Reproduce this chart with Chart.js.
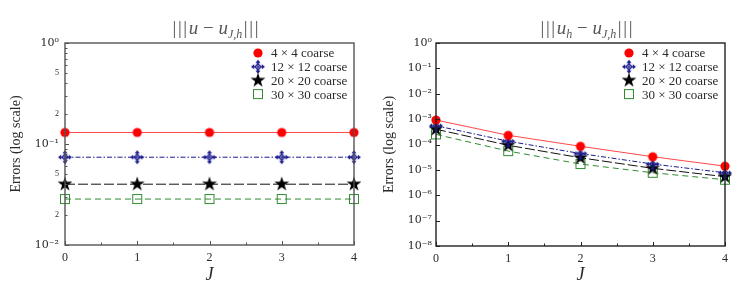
<!DOCTYPE html>
<html>
<head>
<meta charset="utf-8">
<script src="https://cdn.jsdelivr.net/npm/chart.js@4.4.1/dist/chart.umd.min.js"></script>
<style>
  html, body { margin: 0; padding: 0; background: #fff; }
  #wrap { position: relative; width: 747px; height: 293px; }
  canvas { position: absolute; top: 0; }
</style>
</head>
<body>
<div id="wrap">
  <canvas id="left-chart" width="373" height="293" style="left:0"></canvas>
  <canvas id="right-chart" width="374" height="293" style="left:373px"></canvas>
</div>
<script>
const levels = [0, 1, 2, 3, 4];
const seriesNames = ['4 × 4 coarse', '12 × 12 coarse', '20 × 20 coarse', '30 × 30 coarse'];

// |||u - u_{J,h}|||
const exact4 = [0.13, 0.13, 0.13, 0.13, 0.13];
const exact12 = [0.074, 0.074, 0.074, 0.074, 0.074];
const exact20 = [0.040, 0.040, 0.040, 0.040, 0.040];
const exact30 = [0.0285, 0.0285, 0.0285, 0.0285, 0.0285];

// |||u_h - u_{J,h}|||
const fine4 = [9.2e-4, 2.3e-4, 8.5e-5, 3.3e-5, 1.4e-5];
const fine12 = [5.5e-4, 1.35e-4, 4.4e-5, 1.7e-5, 7.7e-6];
const fine20 = [4.0e-4, 9.3e-5, 3.0e-5, 1.15e-5, 5.4e-6];
const fine30 = [2.5e-4, 5.5e-5, 1.7e-5, 7.7e-6, 4.1e-6];

const leftDecades = ['10⁻²', '10⁻¹', '10⁰'];
const rightDecades = ['10⁻⁸', '10⁻⁷', '10⁻⁶', '10⁻⁵', '10⁻⁴', '10⁻³', '10⁻²', '10⁻¹', '10⁰'];
const leftMinorLabels = ['2', '5'];

const SERIF = "'Liberation Serif', 'DejaVu Serif', serif";
const TICKFONT = "'DejaVu Serif', serif";
const TEXT = '#2a2a2a';

const lineColors = ['rgba(255,40,40,0.85)', '#1a1a8c', '#111', '#2f8a2f'];
const dashes = [[], [5, 2, 1.5, 2], [10, 3], [6, 4]];

function markerCanvas(draw) {
    const c = document.createElement('canvas');
    c.width = 18;
    c.height = 18;
    const g = c.getContext('2d');
    g.translate(9, 9);
    draw(g);
    return c;
}

const markers = [
    markerCanvas(g => {
        g.fillStyle = '#ff0000';
        g.beginPath();
        g.arc(0, 0, 4.6, 0, Math.PI * 2);
        g.fill();
    }),
    markerCanvas(g => {
        g.strokeStyle = g.fillStyle = '#1a1a8c';
        g.lineWidth = 1.1;
        g.beginPath();
        g.moveTo(0, -3.2); g.lineTo(3.2, 0); g.lineTo(0, 3.2); g.lineTo(-3.2, 0);
        g.closePath();
        g.stroke();
        g.beginPath();
        g.moveTo(0, -5); g.lineTo(0, 5); g.moveTo(-5, 0); g.lineTo(5, 0);
        g.stroke();
        for (let k = 0; k < 4; k++) {
            g.save();
            g.rotate(k * Math.PI / 2);
            g.beginPath();
            g.moveTo(0, -7);
            g.lineTo(2.6, -3.8);
            g.lineTo(-2.6, -3.8);
            g.closePath();
            g.fill();
            g.restore();
        }
    }),
    markerCanvas(g => {
        g.fillStyle = '#000';
        g.beginPath();
        for (let k = 0; k < 10; k++) {
            const r = k % 2 ? 3 : 7.8;
            const a = -Math.PI / 2 + k * Math.PI / 5;
            g.lineTo(r * Math.cos(a), r * Math.sin(a));
        }
        g.closePath();
        g.fill();
    }),
    markerCanvas(g => {
        g.strokeStyle = '#2f8a2f';
        g.lineWidth = 1;
        g.strokeRect(-4.5, -4.5, 9, 9);
    })
];

function superLabel(value, decades, minExp, minors) {
    const e = Math.floor(Math.log10(value) + 1e-9);
    const m = Math.round(value / Math.pow(10, e));
    if (m === 1) return decades[e - minExp];
    return minors.includes(String(m)) ? String(m) : '';
}

const framePlugin = {
    id: 'frame',
    afterDatasetsDraw(chart, args, opts) {
        const {ctx, chartArea: a, scales: {x, y}} = chart;
        ctx.save();
        ctx.strokeStyle = opts.color;
        ctx.lineWidth = 1;
        y.ticks.forEach(t => {
            const e = Math.log10(t.value);
            const major = Math.abs(e - Math.round(e)) < 1e-6;
            const py = Math.round(y.getPixelForValue(t.value)) + 0.5;
            ctx.beginPath();
            ctx.moveTo(a.left, py);
            ctx.lineTo(a.left + (major ? 4 : 2.5), py);
            ctx.stroke();
        });
        for (let v = x.min; v <= x.max; v += 0.5) {
            const px = Math.round(x.getPixelForValue(v)) + 0.5;
            ctx.beginPath();
            ctx.moveTo(px, a.bottom);
            ctx.lineTo(px, a.bottom - (Number.isInteger(v) ? 4 : 2.5));
            ctx.stroke();
        }
        ctx.lineWidth = opts.width;
        ctx.strokeRect(a.left, a.top, a.right - a.left, a.bottom - a.top);
        ctx.restore();
    },
    afterDraw(chart, args, opts) {
        const {ctx, chartArea: a} = chart;
        ctx.save();
        // title with italic letters and a subscript
        let w = 0;
        const pieces = opts.title.map(p => {
            ctx.font = (p.italic ? 'italic ' : '') + (p.sub ? 12 : 19) + 'px ' + SERIF;
            const pw = ctx.measureText(p.text).width;
            w += pw;
            return Object.assign({w: pw}, p);
        });
        let cx = (a.left + a.right) / 2 + 6 - w / 2;
        ctx.fillStyle = '#555';
        ctx.textBaseline = 'alphabetic';
        pieces.forEach(p => {
            ctx.font = (p.italic ? 'italic ' : '') + (p.sub ? 12 : 19) + 'px ' + SERIF;
            ctx.fillText(p.text, cx, p.sub ? 38 : 34);
            cx += p.w;
        });
        // legend in the upper right corner
        ctx.font = '13px ' + SERIF;
        ctx.fillStyle = TEXT;
        ctx.textBaseline = 'middle';
        seriesNames.forEach((name, i) => {
            const my = a.top + 10 + i * 13.7;
            const mx = a.right - 96;
            ctx.drawImage(markers[i], mx - 9, my - 9);
            ctx.fillText(name, mx + 13, my + 1);
        });
        ctx.restore();
    }
};

function buildChart(id, series, yMin, yMax, tickValues, labelOf, frame) {
    return new Chart(document.getElementById(id), {
        type: 'line',
        data: {
            datasets: series.map((vals, i) => ({
                label: seriesNames[i],
                data: levels.map((j, k) => ({x: j, y: vals[k]})),
                borderColor: lineColors[i],
                borderWidth: 1,
                borderDash: dashes[i],
                pointStyle: markers[i],
                pointRadius: 7,
                pointHoverRadius: 7,
                fill: false,
                tension: 0,
                clip: false
            }))
        },
        options: {
            responsive: false,
            animation: false,
            events: [],
            layout: {padding: {left: 0, right: frame.right, top: 43, bottom: 0}},
            plugins: {
                legend: {display: false},
                tooltip: {enabled: false},
                frame: frame
            },
            scales: {
                x: {
                    type: 'linear',
                    min: 0,
                    max: 4,
                    grid: {display: false, drawTicks: false},
                    border: {display: false},
                    ticks: {stepSize: 1, padding: 6, color: TEXT, font: {family: SERIF, size: 12}},
                    title: {display: true, text: 'J', color: TEXT, padding: {top: 0, bottom: 7},
                        font: {family: SERIF, size: 18, style: 'italic'}},
                    afterFit: s => { s.height = frame.bottom; }
                },
                y: {
                    type: 'logarithmic',
                    min: yMin,
                    max: yMax,
                    grid: {display: false, drawTicks: false},
                    border: {display: false},
                    afterBuildTicks: s => { s.ticks = tickValues.map(v => ({value: v})); },
                    ticks: {
                        autoSkip: false,
                        padding: frame.labelPad,
                        color: TEXT,
                        callback: v => labelOf(v),
                        font: c => {
                            const e = Math.log10(c.tick.value);
                            return Math.abs(e - Math.round(e)) < 1e-6
                                ? {family: TICKFONT, size: 11}
                                : {family: SERIF, size: 8};
                        }
                    },
                    title: {display: true, text: 'Errors (log scale)', color: TEXT, padding: {top: 8, bottom: 0},
                        font: {family: SERIF, size: 14}},
                    afterFit: s => { s.width = frame.left; }
                }
            }
        },
        plugins: [framePlugin]
    });
}

const leftTicks = [];
for (let e = -2; e < 0; e++) {
    for (let m = 1; m <= 9; m++) leftTicks.push(Number((m * Math.pow(10, e)).toPrecision(3)));
}
leftTicks.push(1);
const rightTicks = rightDecades.map((t, i) => Math.pow(10, i - 8));

const bars = '|\u200a|\u200a|';

buildChart('left-chart', [exact4, exact12, exact20, exact30], 0.01, 1, leftTicks,
    v => superLabel(v, leftDecades, -2, leftMinorLabels),
    {left: 65, right: 19, bottom: 48, labelPad: 6, color: '#555', width: 1.4,
     title: [{text: bars + '\u200a'}, {text: 'u', italic: true}, {text: ' − '}, {text: 'u', italic: true},
             {text: 'J,h', italic: true, sub: true}, {text: '\u200a' + bars}]});

buildChart('right-chart', [fine4, fine12, fine20, fine30], 1e-8, 1, rightTicks,
    v => superLabel(v, rightDecades, -8, []),
    {left: 63, right: 22, bottom: 47, labelPad: 4, color: '#222', width: 1.4,
     title: [{text: bars + '\u200a'}, {text: 'u', italic: true}, {text: 'h', italic: true, sub: true}, {text: ' − '},
             {text: 'u', italic: true}, {text: 'J,h', italic: true, sub: true}, {text: '\u200a' + bars}]});
</script>
</body>
</html>
